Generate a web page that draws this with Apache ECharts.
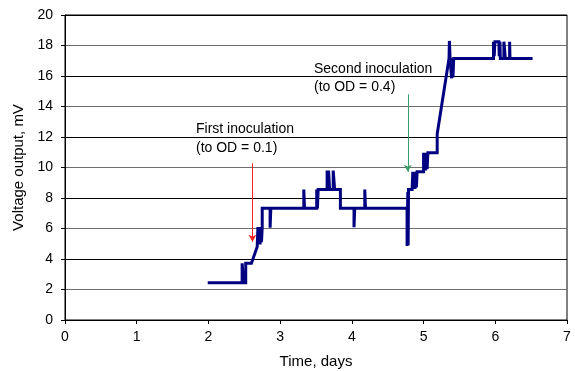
<!DOCTYPE html>
<html>
<head>
<meta charset="utf-8">
<script src="https://cdn.jsdelivr.net/npm/echarts@6/dist/echarts.min.js"></script>
<style>html,body{margin:0;padding:0;background:#fff;}#c{width:575px;height:371px;}</style>
</head>
<body>
<div id="c"></div>
<script>
// Time (days) and voltage output (mV)
const timeDays = [1.99,2.47,2.47,2.49,2.49,2.52,2.52,2.60,2.68,2.69,2.70,2.71,2.72,2.73,2.74,2.75,2.75,2.86,2.86,2.87,2.87,3.33,3.33,3.34,3.34,3.51,3.51,3.52,3.52,3.53,3.53,3.655,3.655,3.665,3.675,3.69,3.69,3.74,3.74,3.76,3.76,3.84,3.84,4.03,4.03,4.04,4.04,4.18,4.18,4.19,4.19,4.77,4.77,4.78,4.785,4.79,4.84,4.85,4.86,4.87,4.88,4.89,4.90,4.91,4.93,5.00,5.00,5.01,5.02,5.03,5.04,5.05,5.06,5.19,5.19,5.21,5.355,5.36,5.37,5.39,5.40,5.41,5.42,5.975,5.975,5.985,5.995,6.05,6.055,6.065,6.07,6.12,6.12,6.14,6.14,6.20,6.20,6.205,6.52];
const voltage  = [2.45,2.45,3.72,3.72,2.45,2.45,3.72,3.72,4.80,6.10,5.00,6.10,4.95,6.10,5.10,6.10,7.32,7.32,6.05,6.05,7.32,7.32,8.55,8.55,7.32,7.32,8.55,8.55,7.32,7.32,8.55,8.55,9.80,8.60,9.80,9.80,8.55,8.55,9.80,9.80,8.55,8.55,7.32,7.32,6.08,6.08,7.32,7.32,8.55,8.55,7.32,7.32,4.85,8.40,4.90,8.55,8.55,9.72,8.60,9.72,8.60,9.72,8.70,9.72,9.72,9.72,10.97,9.80,10.97,9.80,10.97,9.90,10.97,10.97,12.20,12.20,17.15,18.30,17.15,15.85,17.15,15.90,17.15,17.15,18.25,17.30,18.25,18.25,17.30,18.25,17.15,17.15,18.25,18.25,17.15,17.15,18.25,17.15,17.15];
const xTicks = [0,1,2,3,4,5,6,7];
const yTicks = [0,2,4,6,8,10,12,14,16,18,20];
// Annotation arrows: [x, yStart, yEnd]
const firstArrow = [2.614, 10.27, 5.13];
const secondArrow = [4.78, 14.8, 9.72];
const firstLabel = ['First inoculation', '(to OD = 0.1)'];
const secondLabel = ['Second inoculation', '(to OD = 0.4)'];

const points = timeDays.map((t, i) => [t, voltage[i]]);
const FONT = '"Liberation Sans", Arial, Helvetica, sans-serif';

const chart = echarts.init(document.getElementById('c'), null, {renderer: 'canvas'});
chart.setOption({
  animation: false,
  backgroundColor: '#fff',
  textStyle: {fontFamily: FONT},
  grid: {left: 65, right: 8, top: 15, bottom: 51, containLabel: false, outerBoundsMode: 'none',
         show: true, borderColor: '#000', borderWidth: 1, backgroundColor: 'transparent'},
  xAxis: {
    type: 'value', min: xTicks[0], max: xTicks[xTicks.length - 1], interval: 1,
    name: 'Time, days', nameLocation: 'middle', nameGap: 34,
    nameTextStyle: {fontSize: 15, color: '#000', fontFamily: FONT},
    axisLine: {show: true, lineStyle: {color: '#000', width: 1}},
    axisTick: {show: true, length: 4, lineStyle: {color: '#000'}},
    axisLabel: {fontSize: 14, color: '#000', margin: 10, fontFamily: FONT},
    splitLine: {show: false}
  },
  yAxis: {
    type: 'value', min: yTicks[0], max: yTicks[yTicks.length - 1], interval: 2,
    name: 'Voltage output, mV', nameLocation: 'middle', nameGap: 37, nameRotate: 90,
    nameTextStyle: {fontSize: 15, color: '#000', fontFamily: FONT},
    axisLine: {show: true, lineStyle: {color: '#000', width: 1}},
    axisTick: {show: true, length: 4, lineStyle: {color: '#000'}},
    axisLabel: {fontSize: 14, color: '#000', margin: 12, fontFamily: FONT},
    splitLine: {show: true, lineStyle: {color: ['#000', '#6e6e6e'], width: 1}}
  },
  series: [{
    type: 'line',
    data: points,
    showSymbol: false,
    symbol: 'none',
    lineStyle: {color: '#000080', width: 3, join: 'miter'},
    z: 3,
    markLine: {
      silent: true,
      symbol: ['none', 'arrow'],
      symbolSize: [6, 7],
      label: {show: false},
      data: [
        [{coord: [firstArrow[0], firstArrow[1]], lineStyle: {color: '#ff2020', width: 1, type: 'solid'}},
         {coord: [firstArrow[0], firstArrow[2]]}],
        [{coord: [secondArrow[0], secondArrow[1]], lineStyle: {color: '#3a9a6a', width: 1, type: 'solid'}},
         {coord: [secondArrow[0], secondArrow[2]]}]
      ]
    }
  }],
  graphic: [
    {type: 'text', left: 196, top: 120, style: {text: firstLabel.join('\n'), font: '14px ' + FONT, fill: '#000', lineHeight: 19}},
    {type: 'text', left: 314, top: 60, style: {text: secondLabel.join('\n'), font: '14px ' + FONT, fill: '#000', lineHeight: 18}}
  ]
});
</script>
</body>
</html>
